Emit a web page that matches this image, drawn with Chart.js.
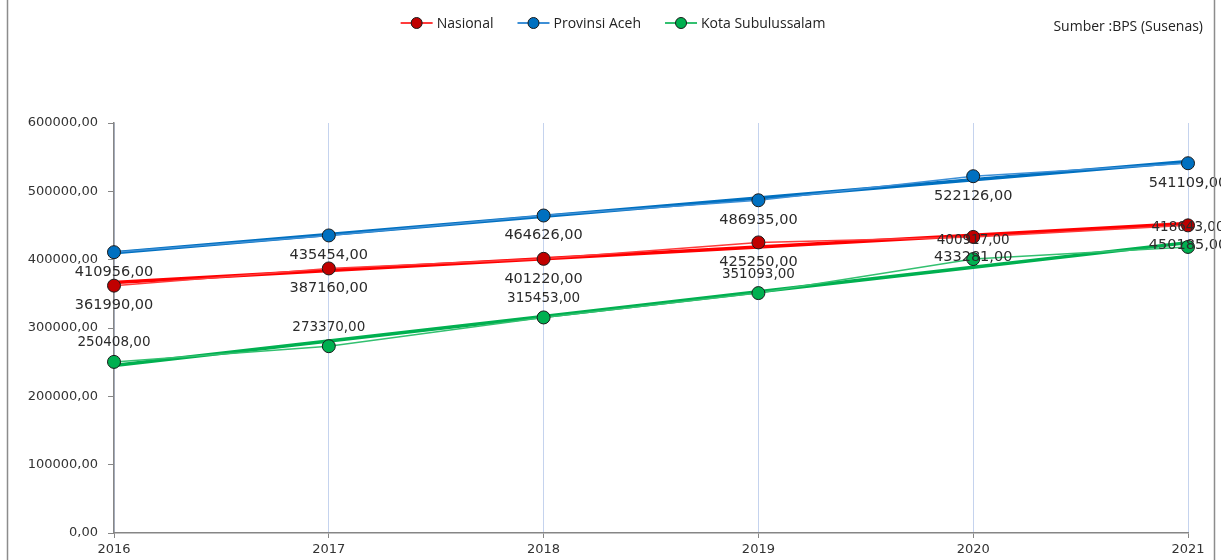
<!DOCTYPE html>
<html><head><meta charset="utf-8">
<script src="https://cdn.jsdelivr.net/npm/chart.js@4.4.1/dist/chart.umd.min.js"></script>
<style>html,body{margin:0;padding:0;background:#fff}#wrap{width:1221px;height:560px;position:relative}</style>
</head><body><div id="wrap"><canvas id="c" width="1221" height="560"></canvas></div>
<script>
const years = ['2016','2017','2018','2019','2020','2021'];
const nasional = [361990, 387160, 401220, 425250, 433281, 450185];
const aceh = [410956, 435454, 464626, 486935, 522126, 541109];
const kota = [250408, 273370, 315453, 351093, 400917, 418643];
const yTicks = [0, 100000, 200000, 300000, 400000, 500000, 600000];
const seriesNames = ['Nasional', 'Provinsi Aceh', 'Kota Subulussalam'];
const sourceText = 'Sumber :BPS (Susenas)';

function trend(vals){
  const n = vals.length, mx = (n-1)/2;
  const my = vals.reduce((a,b)=>a+b,0)/n;
  let sxy=0, sxx=0;
  vals.forEach((v,i)=>{sxy+=(i-mx)*(v-my); sxx+=(i-mx)*(i-mx);});
  const b = sxy/sxx, a = my-b*mx;
  return vals.map((v,i)=>a+b*i);
}
const fmt = v => Math.round(v) + ',00';

const colors = {
  nas: {line:'#ff0000', fill:'#c00000', thin:'#ff3b3b'},
  ace: {line:'#0070c0', fill:'#0070c0', thin:'#3d8fd6'},
  kot: {line:'#00b050', fill:'#00b050', thin:'#33c070'}
};

function dataDs(label, data, c, lblPos, lblSize){
  return {label, data, borderColor:c.thin, backgroundColor:c.fill, borderWidth:1.5,
    pointRadius:6.5, pointHoverRadius:6.5, pointBorderColor:'#1a1a1a', pointBorderWidth:1,
    pointBackgroundColor:c.fill, tension:0, order:1, _lbl:{pos:lblPos, size:lblSize}};
}
function trendDs(data, c){
  return {label:'trend', data:trend(data), borderColor:c.line, borderWidth:3.5, pointRadius:0,
    pointHoverRadius:0, tension:0, order:2};
}

const labelPlugin = {
  id:'labels',
  afterDatasetsDraw(chart){
    const ctx = chart.ctx;
    chart.data.datasets.forEach((ds,i)=>{
      if(!ds._lbl) return;
      const meta = chart.getDatasetMeta(i);
      ctx.save();
      ctx.font = ds._lbl.size + 'px "DejaVu Sans"';
      ctx.fillStyle = '#2b2b2b';
      ctx.textAlign = 'center';
      ctx.textBaseline = 'middle';
      meta.data.forEach((pt,j)=>{
        const dy = ds._lbl.pos === 'below' ? 20 : -19;
        ctx.fillText(fmt(ds.data[j]), pt.x, pt.y + dy);
      });
      ctx.restore();
    });
  }
};

const decorPlugin = {
  id:'decor',
  afterDraw(chart){
    const ctx = chart.ctx;
    ctx.save();
    ctx.strokeStyle = '#8c8c8c'; ctx.lineWidth = 1.5;
    ctx.beginPath(); ctx.moveTo(7.5,0); ctx.lineTo(7.5,560); ctx.moveTo(1214.5,0); ctx.lineTo(1214.5,560); ctx.stroke();
    const items = [
      {name:seriesNames[0], c:colors.nas},
      {name:seriesNames[1], c:colors.ace},
      {name:seriesNames[2], c:colors.kot}
    ];
    ctx.font = '14px "Open Sans"';
    const sym = 32, gap = 4, between = 24;
    let total = 0;
    items.forEach((it,k)=>{ total += sym + gap + ctx.measureText(it.name).width + (k<items.length-1?between:0); });
    let x = 613 - total/2;
    const y = 23;
    items.forEach(it=>{
      ctx.strokeStyle = it.c.thin; ctx.lineWidth = 2;
      ctx.beginPath(); ctx.moveTo(x, y); ctx.lineTo(x+sym, y); ctx.stroke();
      ctx.beginPath(); ctx.arc(x+sym/2, y, 5.5, 0, Math.PI*2);
      ctx.fillStyle = it.c.fill; ctx.fill();
      ctx.strokeStyle = '#1a1a1a'; ctx.lineWidth = 1; ctx.stroke();
      ctx.fillStyle = '#222'; ctx.textAlign='left'; ctx.textBaseline='middle';
      ctx.fillText(it.name, x+sym+gap, y+1);
      x += sym + gap + ctx.measureText(it.name).width + between;
    });
    ctx.font = '14px "Open Sans"';
    ctx.textAlign = 'right'; ctx.textBaseline='middle'; ctx.fillStyle = '#222';
    ctx.fillText(sourceText, 1203, 27);
    ctx.restore();
  }
};

new Chart(document.getElementById('c'), {
  type:'line',
  data:{
    labels: years,
    datasets:[
      dataDs(seriesNames[0], nasional, colors.nas, 'below', 14.5),
      dataDs(seriesNames[1], aceh, colors.ace, 'below', 14.5),
      dataDs(seriesNames[2], kota, colors.kot, 'above', 13.5),
      trendDs(nasional, colors.nas),
      trendDs(aceh, colors.ace),
      trendDs(kota, colors.kot)
    ]
  },
  options:{
    responsive:false, animation:false,
    layout:{padding:{top:123, right:33, left:0, bottom:0}},
    plugins:{legend:{display:false}, tooltip:{enabled:false}},
    scales:{
      x:{
        offset:false,
        grid:{color:'#c5d3ee', lineWidth:1, drawOnChartArea:true, drawTicks:true, tickLength:5, tickColor:'#868686'},
        border:{color:'#868686', width:1.5},
        ticks:{color:'#333', font:{family:'DejaVu Sans', size:13}, padding:4, maxRotation:0, autoSkip:false},
        afterFit(s){ s.height = 27; }
      },
      y:{
        min:0, max:600000,
        afterBuildTicks(s){ s.ticks = yTicks.map(v=>({value:v})); },
        grid:{drawOnChartArea:false, drawTicks:true, tickLength:6, tickColor:'#868686'},
        border:{color:'#868686', width:1.5},
        ticks:{color:'#333', font:{family:'DejaVu Sans', size:13}, padding:10, callback:v=>fmt(v)},
        afterFit(s){ s.width = 114; }
      }
    }
  },
  plugins:[labelPlugin, decorPlugin]
});
</script></body></html>
